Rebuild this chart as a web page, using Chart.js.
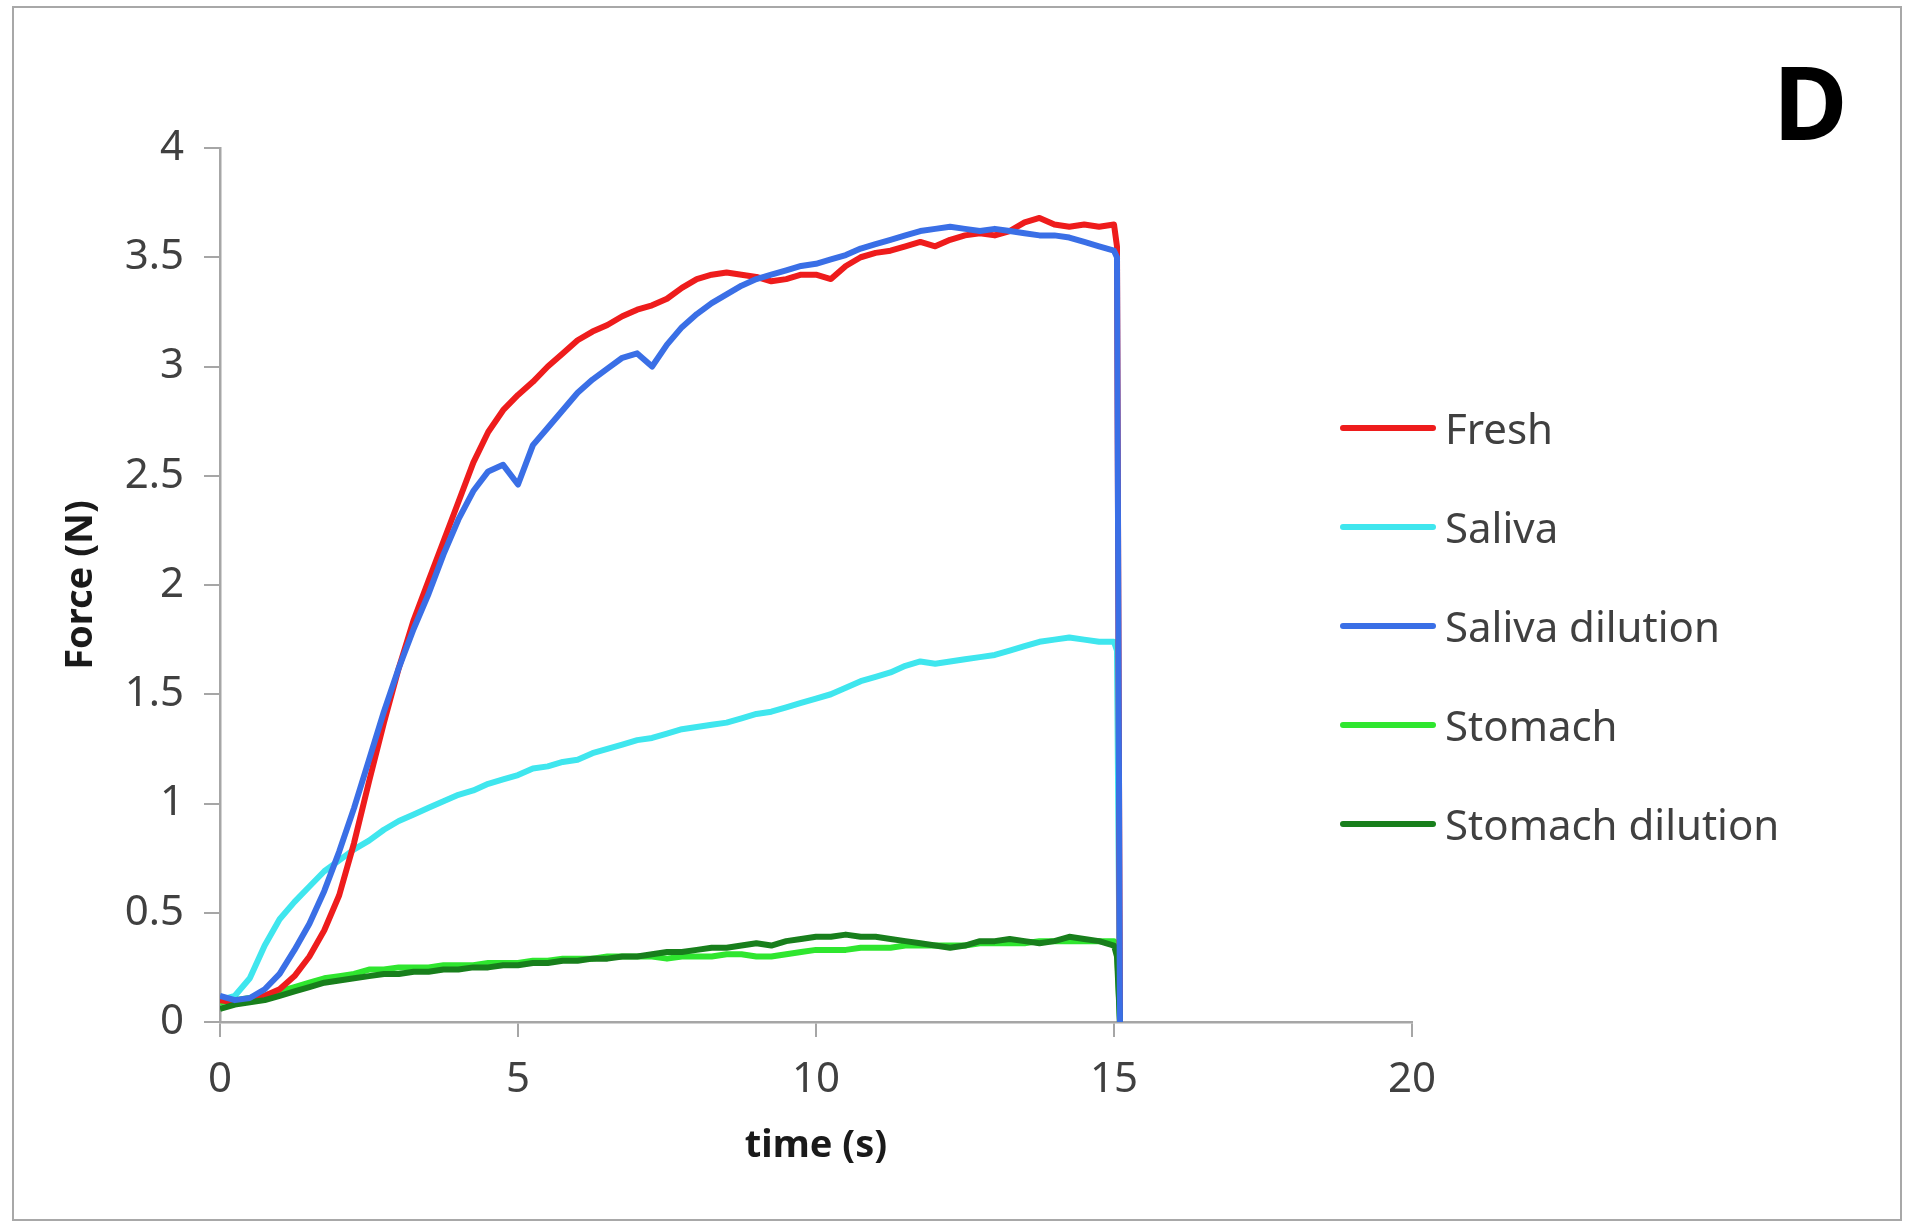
<!DOCTYPE html>
<html>
<head>
<meta charset="utf-8">
<script src="https://cdn.jsdelivr.net/npm/chart.js@4"></script>
<style>
    html, body { margin: 0; padding: 0; background: #fff; }
    #wrap { position: relative; width: 1907px; height: 1225px; font-family: "Noto Sans", sans-serif; }
    #frame { position: absolute; left: 12px; top: 6px; width: 1886px; height: 1211px; border: 2px solid #a8a8a8; }
    #force-chart { position: absolute; left: 0; top: 0; }
    #panel-letter { position: absolute; left: 1773px; top: 50px; font-size: 102px; font-weight: bold; line-height: 1; color: #000; }
    #legend { position: absolute; left: 1340px; top: 378px; }
    .legend-row { display: flex; align-items: center; height: 99px; }
    .legend-line { width: 96px; height: 6px; border-radius: 3px; margin-right: 9px; }
    .legend-text { font-size: 42px; color: #404040; white-space: nowrap; }
</style>
</head>
<body>
<div id="wrap">
    <div id="frame"></div>
    <canvas id="force-chart" width="1907" height="1225"></canvas>
    <div id="panel-letter">D</div>
    <div id="legend"></div>
</div>
<script>
// time axis (s), shared by every series
const timeS = [
    0, 0.25, 0.5, 0.75, 1, 1.25, 1.5, 1.75, 2, 2.25, 2.5, 2.75, 3, 3.25, 3.5, 3.75,
    4, 4.25, 4.5, 4.75, 5, 5.25, 5.5, 5.75, 6, 6.25, 6.5, 6.75, 7, 7.25, 7.5, 7.75,
    8, 8.25, 8.5, 8.75, 9, 9.25, 9.5, 9.75, 10, 10.25, 10.5, 10.75, 11, 11.25, 11.5, 11.75,
    12, 12.25, 12.5, 12.75, 13, 13.25, 13.5, 13.75, 14, 14.25, 14.5, 14.75, 15, 15.05, 15.1
];

// force (N)
const fresh = [
    0.10, 0.09, 0.10, 0.12, 0.15, 0.21, 0.30, 0.42, 0.58, 0.82, 1.10, 1.37, 1.62, 1.84, 2.02, 2.20,
    2.38, 2.56, 2.70, 2.80, 2.87, 2.93, 3.00, 3.06, 3.12, 3.16, 3.19, 3.23, 3.26, 3.28, 3.31, 3.36,
    3.40, 3.42, 3.43, 3.42, 3.41, 3.39, 3.40, 3.42, 3.42, 3.40, 3.46, 3.50, 3.52, 3.53, 3.55, 3.57,
    3.55, 3.58, 3.60, 3.61, 3.60, 3.62, 3.66, 3.68, 3.65, 3.64, 3.65, 3.64, 3.65, 3.55, 0
];
const saliva = [
    0.10, 0.12, 0.20, 0.35, 0.47, 0.55, 0.62, 0.69, 0.74, 0.79, 0.83, 0.88, 0.92, 0.95, 0.98, 1.01,
    1.04, 1.06, 1.09, 1.11, 1.13, 1.16, 1.17, 1.19, 1.20, 1.23, 1.25, 1.27, 1.29, 1.30, 1.32, 1.34,
    1.35, 1.36, 1.37, 1.39, 1.41, 1.42, 1.44, 1.46, 1.48, 1.50, 1.53, 1.56, 1.58, 1.60, 1.63, 1.65,
    1.64, 1.65, 1.66, 1.67, 1.68, 1.70, 1.72, 1.74, 1.75, 1.76, 1.75, 1.74, 1.74, 1.70, 0
];
const salivaDilution = [
    0.12, 0.10, 0.11, 0.15, 0.22, 0.33, 0.45, 0.60, 0.78, 0.98, 1.20, 1.42, 1.62, 1.80, 1.96, 2.14,
    2.30, 2.43, 2.52, 2.55, 2.46, 2.64, 2.72, 2.80, 2.88, 2.94, 2.99, 3.04, 3.06, 3.00, 3.10, 3.18,
    3.24, 3.29, 3.33, 3.37, 3.40, 3.42, 3.44, 3.46, 3.47, 3.49, 3.51, 3.54, 3.56, 3.58, 3.60, 3.62,
    3.63, 3.64, 3.63, 3.62, 3.63, 3.62, 3.61, 3.60, 3.60, 3.59, 3.57, 3.55, 3.53, 3.50, 0
];
const stomach = [
    0.09, 0.10, 0.11, 0.12, 0.14, 0.16, 0.18, 0.20, 0.21, 0.22, 0.24, 0.24, 0.25, 0.25, 0.25, 0.26,
    0.26, 0.26, 0.27, 0.27, 0.27, 0.28, 0.28, 0.29, 0.29, 0.29, 0.30, 0.30, 0.30, 0.30, 0.29, 0.30,
    0.30, 0.30, 0.31, 0.31, 0.30, 0.30, 0.31, 0.32, 0.33, 0.33, 0.33, 0.34, 0.34, 0.34, 0.35, 0.35,
    0.35, 0.35, 0.35, 0.36, 0.36, 0.36, 0.36, 0.37, 0.37, 0.37, 0.37, 0.37, 0.37, 0.35, 0
];
const stomachDilution = [
    0.06, 0.08, 0.09, 0.10, 0.12, 0.14, 0.16, 0.18, 0.19, 0.20, 0.21, 0.22, 0.22, 0.23, 0.23, 0.24,
    0.24, 0.25, 0.25, 0.26, 0.26, 0.27, 0.27, 0.28, 0.28, 0.29, 0.29, 0.30, 0.30, 0.31, 0.32, 0.32,
    0.33, 0.34, 0.34, 0.35, 0.36, 0.35, 0.37, 0.38, 0.39, 0.39, 0.40, 0.39, 0.39, 0.38, 0.37, 0.36,
    0.35, 0.34, 0.35, 0.37, 0.37, 0.38, 0.37, 0.36, 0.37, 0.39, 0.38, 0.37, 0.35, 0.30, 0
];

const seriesNames = ['Fresh', 'Saliva', 'Saliva dilution', 'Stomach', 'Stomach dilution'];
const xTicks = [0, 5, 10, 15, 20];
const yTicks = [0, 0.5, 1, 1.5, 2, 2.5, 3, 3.5, 4];

const seriesValues = [fresh, saliva, salivaDilution, stomach, stomachDilution];
const seriesColors = ['#ee1c1c', '#3fe6ee', '#3a6fe6', '#2fe62f', '#187f1c'];
const drawOrder = [2, 4, 0, 3, 1]; // lower = drawn on top

const AXIS_GREY = '#a6a6a6';
const TEXT_GREY = '#404040';

const datasets = seriesValues.map((vals, i) => ({
    label: seriesNames[i],
    data: timeS.map((t, k) => ({ x: t, y: vals[k] })),
    borderColor: seriesColors[i],
    backgroundColor: seriesColors[i],
    borderWidth: 6,
    borderJoinStyle: 'round',
    pointRadius: 0,
    showLine: true,
    tension: 0,
    order: drawOrder[i]
}));

function axisTitle(text, pad) {
    return {
        display: true,
        text,
        color: '#1a1a1a',
        font: { family: 'Noto Sans', size: 38, weight: 'bold' },
        padding: pad
    };
}

const chart = new Chart(document.getElementById('force-chart'), {
    type: 'scatter',
    data: { datasets },
    options: {
        responsive: false,
        animation: false,
        layout: { padding: { left: 0, top: 148, right: 495, bottom: 0 } },
        plugins: { legend: { display: false }, tooltip: { enabled: false } },
        scales: {
            x: {
                type: 'linear',
                min: 0,
                max: 20,
                afterBuildTicks: s => { s.ticks = xTicks.map(v => ({ value: v })); },
                ticks: {
                    color: TEXT_GREY,
                    font: { family: 'Noto Sans', size: 42 },
                    padding: 18,
                    maxRotation: 0,
                    callback: v => String(v)
                },
                grid: { drawOnChartArea: false, tickLength: 15, color: AXIS_GREY, lineWidth: 2 },
                border: { color: AXIS_GREY, width: 2.5 },
                title: axisTitle('time (s)', { top: 0, bottom: 56 }),
                afterFit: s => { s.height = 203; }
            },
            y: {
                type: 'linear',
                min: 0,
                max: 4,
                afterBuildTicks: s => { s.ticks = yTicks.map(v => ({ value: v })); },
                ticks: {
                    color: TEXT_GREY,
                    font: { family: 'Noto Sans', size: 42 },
                    padding: 20,
                    callback: v => String(v)
                },
                grid: { drawOnChartArea: false, tickLength: 16, color: AXIS_GREY, lineWidth: 2 },
                border: { color: AXIS_GREY, width: 2.5 },
                title: axisTitle('Force (N)', { top: 58, bottom: 0 }),
                afterFit: s => { s.width = 220; }
            }
        }
    }
});

// legend built from the chart's own datasets
document.getElementById('legend').innerHTML = chart.data.datasets.map(ds => `
    <div class="legend-row">
        <span class="legend-line" style="background:${ds.borderColor}"></span>
        <span class="legend-text">${ds.label}</span>
    </div>
`).join('');
</script>
</body>
</html>
